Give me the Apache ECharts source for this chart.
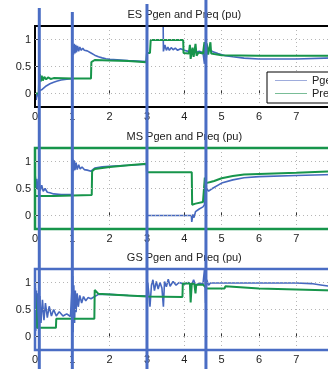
<!DOCTYPE html>
<html><head><meta charset="utf-8">
<script src="https://cdn.jsdelivr.net/npm/echarts@6/dist/echarts.min.js"></script>
<style>html,body{margin:0;padding:0;overflow:hidden;background:#fff;width:328px;height:369px}#c{width:340px;height:369px}</style>
</head><body><div id="c"></div>
<script>
const titles = ['ES Pgen and Preq (pu)', 'MS Pgen and Preq (pu)', 'GS Pgen and Preq (pu)'];
const seriesNames = ['Pgen', 'Preq'];
const xRange = [0, 8];
const yRange = [-0.25, 1.25];
const yLabelValues = [0, 0.5, 1];
const markerX = [0.115, 1.0, 3.0, 4.58];

const esPgen = [[0,-0.08],[0.03,-0.12],[0.06,0.0],[0.08,-0.05],[0.12,0.05],[0.2,0.08],[0.3,0.14],[0.4,0.18],[0.5,0.21],[0.6,0.23],[0.7,0.25],[0.85,0.265],[1.0,0.275],
 [1.01,0.9],[1.03,0.72],[1.05,0.92],[1.07,0.74],[1.09,0.9],[1.11,0.76],[1.14,0.88],[1.17,0.78],[1.2,0.86],[1.24,0.8],[1.28,0.84],[1.32,0.8],[1.4,0.79],[1.5,0.75],[1.6,0.71],[1.7,0.68],[1.8,0.66],[1.9,0.645],[2.0,0.635],[2.5,0.61],[2.99,0.59],
 [3.0,0.6],[3.02,1.6],[3.43,1.6],[3.44,0.78],[3.48,0.9],[3.52,0.8],[3.56,0.86],[3.6,0.8],[3.65,0.85],[3.7,0.81],[3.76,0.84],[3.82,0.8],[3.9,0.83],[4.0,0.8],[4.1,0.78],[4.2,0.8],[4.3,0.76],[4.4,0.78],[4.5,0.76],[4.54,0.55],[4.56,0.9],[4.58,0.6],[4.62,0.86],[4.66,0.8],[4.75,0.78],[4.9,0.74],[5.1,0.7],[5.3,0.68],[5.6,0.655],[6.0,0.64],[7.0,0.64],[8.0,0.66]];
const esPreq = [[0,0.0],[0.1,0.0],[0.11,0.25],[0.13,0.36],[0.15,0.22],[0.18,0.33],[0.21,0.24],[0.25,0.31],[0.3,0.26],[0.35,0.3],[0.42,0.27],[0.5,0.285],[1.0,0.28],[1.5,0.28],[1.51,0.58],[1.6,0.62],[2.0,0.61],[2.5,0.6],[2.98,0.58],
 [3.0,0.75],[3.08,0.75],[3.1,0.99],[3.97,0.99],[3.98,0.75],[4.12,0.74],[4.15,0.9],[4.17,0.64],[4.22,0.85],[4.25,0.68],[4.3,0.92],[4.33,0.7],[4.38,0.76],[4.5,0.74],[4.54,0.95],[4.57,0.68],[4.6,0.93],[4.64,0.72],[4.7,0.95],[4.72,0.74],[4.8,0.73],[5.0,0.71],[6.0,0.7],[8.0,0.7]];

const msPgen = [[0,0.55],[0.01,0.72],[0.03,0.5],[0.05,0.68],[0.08,0.48],[0.11,0.62],[0.14,0.46],[0.18,0.56],[0.22,0.45],[0.27,0.5],[0.33,0.43],[0.4,0.42],[0.5,0.4],[0.7,0.39],[1.0,0.39],
 [1.01,1.05],[1.03,0.82],[1.05,1.02],[1.07,0.84],[1.1,0.98],[1.13,0.85],[1.17,0.94],[1.21,0.86],[1.26,0.9],[1.32,0.85],[1.4,0.84],[1.5,0.82],[1.55,0.83],[1.6,0.88],[1.8,0.9],[2.0,0.91],[2.5,0.93],[2.99,0.95],
 [3.0,0.0],[4.19,0.0],[4.2,-0.12],[4.23,0.02],[4.26,-0.04],[4.3,0.07],[4.35,0.05],[4.4,0.12],[4.5,0.16],[4.54,0.2],[4.55,0.65],[4.57,0.4],[4.6,0.5],[4.65,0.45],[4.75,0.5],[5.0,0.6],[5.3,0.66],[5.6,0.7],[6.0,0.72],[7.0,0.74],[8.0,0.76]];
const msPreq = [[0,0.36],[0.5,0.36],[0.51,0.38],[1.52,0.38],[1.53,0.82],[1.6,0.86],[2.0,0.9],[2.5,0.93],[2.99,0.96],[3.0,0.8],[4.2,0.8],[4.21,0.2],[4.3,0.22],[4.5,0.25],[4.54,0.26],[4.55,0.7],[4.58,0.6],[4.7,0.62],[4.8,0.64],[5.0,0.69],[5.3,0.73],[5.6,0.76],[6.0,0.77],[7.0,0.79],[8.0,0.82]];

const gsPgen = [[0,0.5],[0.01,0.9],[0.02,0.1],[0.04,0.85],[0.06,0.15],[0.08,0.8],[0.1,0.2],[0.13,0.75],[0.16,0.25],[0.2,0.68],[0.24,0.3],[0.28,0.62],[0.33,0.35],[0.38,0.56],[0.44,0.38],[0.5,0.5],[0.57,0.38],[0.65,0.46],[0.75,0.38],[0.85,0.42],[0.95,0.37],[1.0,0.38],
 [1.01,1.12],[1.02,0.08],[1.04,0.95],[1.06,0.25],[1.08,0.85],[1.1,0.45],[1.13,0.8],[1.16,0.55],[1.2,0.76],[1.25,0.62],[1.3,0.74],[1.36,0.66],[1.42,0.72],[1.5,0.7],[1.6,0.74],[1.7,0.78],[2.0,0.78],[2.5,0.76],[2.99,0.75],
 [3.0,0.75],[3.02,1.0],[3.05,0.8],[3.08,0.55],[3.12,0.95],[3.16,1.05],[3.2,0.85],[3.25,1.02],[3.3,0.88],[3.35,1.0],[3.4,0.9],[3.44,0.55],[3.47,1.02],[3.52,0.92],[3.57,1.06],[3.62,0.93],[3.7,1.02],[3.78,0.95],[3.86,1.0],[4.0,0.97],[4.1,1.0],[4.2,0.96],[4.25,1.05],[4.3,0.94],[4.4,0.99],[4.5,0.97],[4.55,1.3],[4.57,0.62],[4.6,1.05],[4.65,0.95],[4.7,0.99],[5.0,0.99],[6.0,0.99],[7.0,0.99],[7.4,0.98],[7.7,0.95],[8.0,0.92]];
const gsPreq = [[0,0.82],[0.05,0.82],[0.06,0.16],[0.56,0.16],[0.57,0.33],[1.59,0.33],[1.6,0.86],[1.65,0.85],[1.7,0.79],[2.0,0.78],[2.5,0.76],[3.0,0.74],[3.95,0.73],[3.96,0.98],[4.15,0.98],[4.17,0.63],[4.2,0.98],[4.27,0.97],[4.3,0.8],[4.32,0.96],[4.5,0.96],[4.6,0.89],[5.08,0.89],[5.1,0.93],[6.0,0.89],[7.0,0.87],[8.0,0.85]];

const pgenData = [esPgen, msPgen, gsPgen];
const preqData = [esPreq, msPreq, gsPreq];

const BLUE = '#4668bf', GREEN = '#17954b', MARK = '#4a6dc4';
const boxColors = ['#000000', GREEN, MARK];
const gridTops = [26, 148, 269];
const markTops = [8, 12, 4, 0];
const FONT = 'Liberation Sans';

const chart = echarts.init(document.getElementById('c'), null, {renderer: 'canvas'});
const grids = [], xAxes = [], yAxes = [], series = [], titleOpts = [];
for (let i = 0; i < 3; i++) {
  grids.push({left: 35, top: gridTops[i], width: 298.6, height: 81, show: true, borderColor: boxColors[i], borderWidth: i === 0 ? 2 : 2.5, backgroundColor: 'transparent', z: 5});
  xAxes.push({type: 'value', gridIndex: i, min: xRange[0], max: xRange[1], interval: 1,
    axisLine: {show: false}, axisTick: {show: true, inside: true, length: 3, lineStyle: {color: '#333'}},
    axisLabel: {fontSize: 11, color: '#222', margin: 4, fontFamily: FONT, showMaxLabel: false},
    splitLine: {show: true, lineStyle: {color: '#b5b5b5', type: [1, 3], width: 1}}});
  yAxes.push({type: 'value', gridIndex: i, min: yRange[0], max: yRange[1], interval: 0.25,
    axisLine: {show: false}, axisTick: {show: true, inside: true, length: 3, customValues: yLabelValues, lineStyle: {color: '#333'}},
    axisLabel: {fontSize: 11, color: '#222', margin: 4, fontFamily: FONT, customValues: yLabelValues, formatter: v => String(v)},
    splitLine: {show: false}});
  series.push({type: 'line', name: '_grid' + i, xAxisIndex: i, yAxisIndex: i, data: [], silent: true, z: 1,
    markLine: {silent: true, symbol: 'none', label: {show: false}, lineStyle: {color: '#b5b5b5', type: [1, 3], width: 1},
      data: yLabelValues.map(v => ({yAxis: v}))}});
  series.push({type: 'line', name: seriesNames[0], xAxisIndex: i, yAxisIndex: i, data: pgenData[i], showSymbol: false, symbol: 'none',
    lineStyle: {color: BLUE, width: 1.6}, itemStyle: {color: BLUE}, z: 3, clip: true, animation: false});
  series.push({type: 'line', name: seriesNames[1], xAxisIndex: i, yAxisIndex: i, data: preqData[i], showSymbol: false, symbol: 'none',
    lineStyle: {color: GREEN, width: 2}, itemStyle: {color: GREEN}, z: 4, clip: true, animation: false});
  titleOpts.push({text: titles[i], left: 35 + 298.6 / 2, top: gridTops[i] - 18, textAlign: 'center', padding: 0,
    textStyle: {fontSize: 11, fontWeight: 'normal', color: '#222', fontFamily: FONT, lineHeight: 13}});
}

chart.setOption({
  animation: false,
  title: titleOpts,
  grid: grids, xAxis: xAxes, yAxis: yAxes, series: series,
  legend: {data: [
      {name: seriesNames[0], itemStyle: {color: '#9eacdc'}},
      {name: seriesNames[1], itemStyle: {color: '#79bd97'}}],
    orient: 'vertical', left: 267, top: 72, itemWidth: 32, itemHeight: 1, itemGap: 0,
    icon: 'rect', padding: [2, 8, 3, 8], borderColor: '#000', borderWidth: 1, backgroundColor: '#fff',
    textStyle: {fontSize: 11, color: '#222', fontFamily: FONT, lineHeight: 13}, selectedMode: false, z: 10}
});

const marks = markerX.map((v, k) => {
  const px = chart.convertToPixel({xAxisIndex: 0}, v);
  return {type: 'line', shape: {x1: px, y1: markTops[k], x2: px, y2: 369}, style: {stroke: MARK, lineWidth: 3}, z: 100, silent: true};
});
chart.setOption({graphic: marks});
</script></body></html>
